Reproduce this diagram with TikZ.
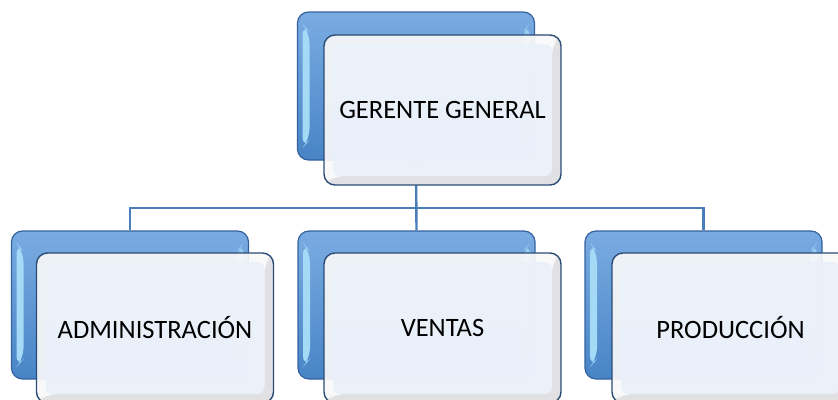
\documentclass[tikz,border=0pt]{standalone}
\usepackage{fontspec}
\setmainfont{Carlito}
\definecolor{bluetop}{RGB}{122,172,226}
\definecolor{bluebot}{RGB}{72,132,198}
\definecolor{bbord}{RGB}{52,98,158}
\definecolor{bluehi}{RGB}{165,218,246}
\definecolor{lineblue}{RGB}{74,126,187}
\definecolor{fbord}{RGB}{42,76,116}
\definecolor{fouter}{RGB}{249,249,249}
\definecolor{fgray}{RGB}{224,224,226}
\definecolor{finner}{RGB}{234,241,250}
\begin{document}
\begin{tikzpicture}[x=1pt,y=1pt,
  conn/.style={draw=lineblue, line width=2.4pt},
  backbox/.style={rectangle, rounded corners=11pt, minimum width=237pt, minimum height=148pt,
    draw=bbord, line width=1.2pt, top color=bluetop, bottom color=bluebot,
    path picture={
      \fill[bluehi] ([xshift=5pt,yshift=-12pt]path picture bounding box.north west)
        -- ([xshift=12pt,yshift=-20pt]path picture bounding box.north west)
        -- ([xshift=12pt,yshift=20pt]path picture bounding box.south west)
        -- ([xshift=5pt,yshift=12pt]path picture bounding box.south west) -- cycle;
      \fill[bluehi!70!bluetop] ([xshift=-5pt,yshift=-12pt]path picture bounding box.north east)
        -- ([xshift=-12pt,yshift=-20pt]path picture bounding box.north east)
        -- ([xshift=-12pt,yshift=20pt]path picture bounding box.south east)
        -- ([xshift=-5pt,yshift=12pt]path picture bounding box.south east) -- cycle;
    }},
  frontbox/.style={rectangle, rounded corners=11pt, minimum width=237pt, minimum height=150pt,
    draw=fbord, line width=1.4pt, fill=fouter, fill opacity=0.92, text opacity=1,
    font=\fontsize{26.5}{30}\selectfont, text=black,
    path picture={
      \fill[fgray, fill opacity=0.92] (path picture bounding box.south west)
        -- ([xshift=9pt,yshift=9pt]path picture bounding box.south west)
        -- ([xshift=-9pt,yshift=9pt]path picture bounding box.south east)
        -- ([xshift=-9pt,yshift=-9pt]path picture bounding box.north east)
        -- (path picture bounding box.north east)
        -- (path picture bounding box.south east) -- cycle;
      \fill[finner, fill opacity=0.95, rounded corners=7pt]
        ([xshift=9pt,yshift=-9pt]path picture bounding box.north west)
        rectangle ([xshift=-9pt,yshift=9pt]path picture bounding box.south east);
    }}]
\useasboundingbox (0,0) rectangle (838,-399);
\clip (0,0) rectangle (838,-399);
\coordinate (bus) at (416,-208);
% back boxes
\node[backbox] (ggb) at (416,-86) {};
\node[backbox] (admb) at (130,-305) {};
\node[backbox] (venb) at (416.5,-305) {};
\node[backbox] (prob) at (703.5,-305) {};
% connectors
\draw[conn] (ggb.south) -- (venb.north);
\draw[conn] (admb.north) |- (bus) -| (prob.north);
% front boxes
\node[frontbox] (ggf) at (442.5,-110) {GERENTE GENERAL};
\node[frontbox] (admf) at (155,-328) {ADMINISTRACIÓN};
\node[frontbox] (venf) at (442.5,-328) {VENTAS};
\node[frontbox] (prof) at (730.5,-328) {PRODUCCIÓN};
\end{tikzpicture}
\end{document}
